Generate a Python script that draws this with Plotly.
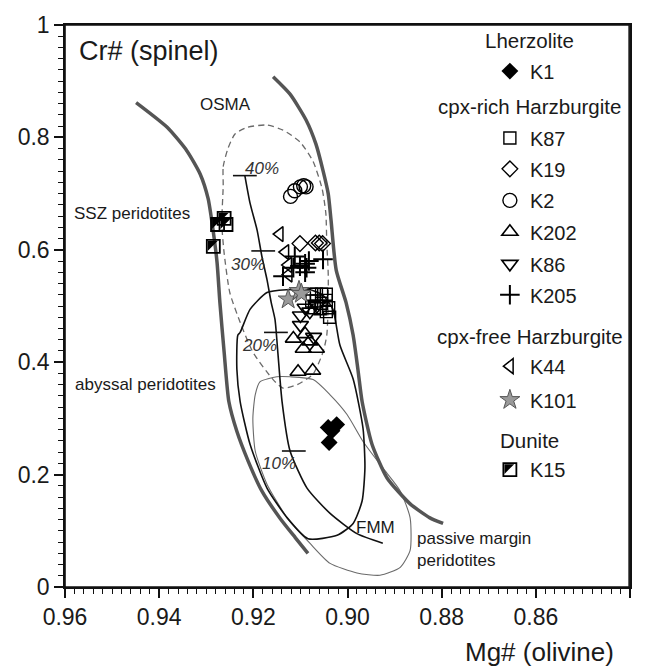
import plotly.graph_objects as go

# ---------------- data (Mg# olivine, Cr# spinel) ----------------
K1_x = [0.9041, 0.9023, 0.9033, 0.9039]
K1_y = [0.284, 0.289, 0.278, 0.257]

K87_x = [0.9076, 0.9066, 0.9055, 0.9045, 0.9076, 0.9066, 0.9055, 0.9045, 0.9070, 0.9058, 0.9045, 0.9038, 0.9040]
K87_y = [0.521, 0.521, 0.521, 0.521, 0.509, 0.509, 0.505, 0.510, 0.497, 0.495, 0.490, 0.480, 0.497]

K19_x = [0.9101, 0.9068, 0.9060, 0.9053]
K19_y = [0.611, 0.612, 0.612, 0.611]

K2_x = [0.9121, 0.9112, 0.9100, 0.9093, 0.9088]
K2_y = [0.695, 0.705, 0.712, 0.714, 0.712]

K202_x = [0.9115, 0.9090, 0.9094, 0.9066, 0.9080, 0.9105, 0.9074]
K202_y = [0.442, 0.450, 0.424, 0.424, 0.437, 0.383, 0.385]

K86_x = [0.9100, 0.9100, 0.9080, 0.9090, 0.9072, 0.9065]
K86_y = [0.483, 0.466, 0.490, 0.497, 0.445, 0.500]

K205_x = [0.9112, 0.9115, 0.9101, 0.9090, 0.9087, 0.9082, 0.9052, 0.9137, 0.9090]
K205_y = [0.588, 0.568, 0.571, 0.575, 0.568, 0.580, 0.583, 0.553, 0.560]

K44_x = [0.9144, 0.9132, 0.9126, 0.9125]
K44_y = [0.628, 0.596, 0.573, 0.556]

K101_x = [0.9126, 0.9103, 0.9098]
K101_y = [0.512, 0.527, 0.522]

K15_x = [0.9276, 0.9262, 0.9258, 0.9285]
K15_y = [0.645, 0.656, 0.645, 0.606]

# ---------------- reference fields / trends ----------------
osma_left_x = [0.9449, 0.9383, 0.9341, 0.9313, 0.9296, 0.9286, 0.9277, 0.9271, 0.9262, 0.9252,
               0.9235, 0.9211, 0.9182, 0.9143, 0.9111, 0.9084]
osma_left_y = [0.862, 0.818, 0.776, 0.735, 0.691, 0.638, 0.577, 0.506, 0.418, 0.330,
               0.277, 0.224, 0.171, 0.122, 0.088, 0.060]

osma_right_x = [0.9158, 0.9122, 0.9088, 0.9067, 0.9052, 0.9041, 0.9035, 0.9024, 0.9003, 0.8988,
                0.8978, 0.8969, 0.8948, 0.8916, 0.8867, 0.8825, 0.8797]
osma_right_y = [0.908, 0.877, 0.831, 0.788, 0.741, 0.700, 0.653, 0.564, 0.506, 0.448,
                0.388, 0.330, 0.254, 0.194, 0.148, 0.123, 0.113]

ssz_field_x = [0.9264, 0.9264, 0.9254, 0.9239, 0.9213, 0.9171, 0.9137, 0.9101, 0.9073, 0.9054,
               0.9046, 0.9044, 0.9041, 0.9041, 0.9044, 0.9052, 0.9073, 0.9107, 0.9137, 0.9158,
               0.9201, 0.9228, 0.9250, 0.9262, 0.9267, 0.9264]
ssz_field_y = [0.713, 0.748, 0.780, 0.806, 0.818, 0.822, 0.813, 0.792, 0.757, 0.709,
               0.665, 0.612, 0.559, 0.506, 0.448, 0.418, 0.379, 0.360, 0.354, 0.369,
               0.418, 0.471, 0.524, 0.594, 0.647, 0.713]

abyssal_x = [0.9228, 0.9207, 0.9171, 0.9128, 0.9080, 0.9052, 0.9031, 0.9016, 0.8988, 0.8967,
             0.8963, 0.8969, 0.8988, 0.9022, 0.9084, 0.9128, 0.9171, 0.9207, 0.9228, 0.9235,
             0.9233, 0.9228]
abyssal_y = [0.453, 0.494, 0.524, 0.529, 0.529, 0.519, 0.494, 0.430, 0.370, 0.282,
             0.212, 0.153, 0.113, 0.092, 0.086, 0.123, 0.176, 0.254, 0.330, 0.388,
             0.448, 0.453]

passive_x = [0.9186, 0.9150, 0.9122, 0.9073, 0.9037, 0.9001, 0.8967, 0.8925, 0.8888, 0.8867,
             0.8867, 0.8888, 0.8931, 0.8980, 0.9037, 0.9080, 0.9128, 0.9171, 0.9196, 0.9201,
             0.9196, 0.9186]
passive_y = [0.365, 0.374, 0.374, 0.369, 0.342, 0.307, 0.259, 0.212, 0.171, 0.123,
             0.065, 0.035, 0.021, 0.025, 0.042, 0.078, 0.123, 0.183, 0.242, 0.300,
             0.342, 0.365]

fmm_x = [0.9218, 0.9207, 0.9192, 0.9182, 0.9171, 0.9162, 0.9154, 0.9148, 0.9139, 0.9122,
         0.9086, 0.9037, 0.8980, 0.8925]
fmm_y = [0.732, 0.683, 0.635, 0.589, 0.547, 0.506, 0.476, 0.418, 0.330, 0.242,
         0.176, 0.131, 0.095, 0.078]

melt_x = [0.9218, 0.9179, 0.9152, 0.9114]
melt_y = [0.732, 0.598, 0.453, 0.242]
melt_labels = ["40%", "30%", "20%", "10%"]
melt_label_x = [0.9182, 0.9211, 0.9186, 0.9145]
melt_label_y = [0.744, 0.573, 0.430, 0.219]

x_range = [0.96, 0.84]
y_range = [0.0, 1.0]
x_ticks = [0.96, 0.94, 0.92, 0.90, 0.88, 0.86, 0.84]
x_ticktext = ["0.96", "0.94", "0.92", "0.90", "0.88", "0.86", "0.84"]
y_ticks = [0, 0.2, 0.4, 0.6, 0.8, 1]
y_ticktext = ["0", "0.2", "0.4", "0.6", "0.8", "1"]

FONT = "Liberation Sans, Arial, Helvetica, sans-serif"
TXT = "#1a1a1a"

# plot-area geometry (px)
W, H = 650, 666
ML, MR, MT, MB = 65, 20, 20, 79
PW, PH = W - ML - MR, H - MT - MB

# half-filled square (K15): open square + filled upper-left triangle.
# plotly's triangle-nw has its centroid on the point, so it sits 0.4*r down-right
# of the square centre: shift it back up-left by that amount.
SQ_SIZE = 13
TRI_SIZE = SQ_SIZE / 1.2           # triangle legs = square side
TRI_SHIFT = -0.4 * TRI_SIZE / 2    # px (negative = left / up)

fig = go.Figure()


def add_curve(x, y, color, width, dash="solid"):
    fig.add_trace(go.Scatter(x=x, y=y, mode="lines", showlegend=False, hoverinfo="skip",
                             line=dict(color=color, width=width, dash=dash, shape="spline",
                                       smoothing=0.6)))


add_curve(passive_x, passive_y, "#6a6a6a", 1.1)
add_curve(ssz_field_x, ssz_field_y, "#6a6a6a", 1.3, dash="6px,4px")
add_curve(abyssal_x, abyssal_y, "#111111", 1.6)
add_curve(osma_left_x, osma_left_y, "#555555", 3.5)
add_curve(osma_right_x, osma_right_y, "#555555", 3.5)
add_curve(fmm_x, fmm_y, "#111111", 1.6)

# melting-degree ticks on FMM trend
fig.add_trace(go.Scatter(x=melt_x, y=melt_y, mode="markers", showlegend=False, hoverinfo="skip",
                         marker=dict(symbol="line-ew", size=17,
                                     line=dict(color="#111111", width=1.6))))

# ---------------- samples ----------------
samples = [
    # name, x, y, symbol, size, color, line color, line width, legend id, axes
    ("K1", K1_x, K1_y, "diamond", 13, "black", "black", 0, "legend", "x", "y"),
    ("K87", K87_x, K87_y, "square-open", 12, "black", "black", 1.4, "legend2", "x", "y"),
    ("K19", K19_x, K19_y, "diamond-open", 12, "black", "black", 1.4, "legend3", "x", "y"),
    ("K2", K2_x, K2_y, "circle-open", 14, "black", "black", 1.4, "legend4", "x", "y"),
    ("K202", K202_x, K202_y, "triangle-up-open", 14, "black", "black", 1.6, "legend5", "x", "y"),
    ("K86", K86_x, K86_y, "triangle-down-open", 14, "black", "black", 1.6, "legend6", "x", "y"),
    ("K205", K205_x, K205_y, "cross-thin", 14, "black", "black", 2.0, "legend7", "x", "y"),
    ("K44", K44_x, K44_y, "triangle-left-open", 13, "black", "black", 1.5, "legend8", "x", "y"),
    ("K101", K101_x, K101_y, "star", 15, "#9a9a9a", "#555555", 1.0, "legend9", "x", "y"),
    ("K15", K15_x, K15_y, "square-open", SQ_SIZE, "black", "black", 1.8, "legend10", "x", "y"),
    (" ", K15_x, K15_y, "triangle-nw", TRI_SIZE, "black", "black", 0, "legend11", "x2", "y2"),
]

for name, xs, ys, sym, size, col, lcol, lw, leg, xa, ya in samples:
    fig.add_trace(go.Scatter(
        x=xs, y=ys, mode="markers", name=name, legend=leg, xaxis=xa, yaxis=ya,
        marker=dict(symbol=sym, size=size, color=col, line=dict(color=lcol, width=lw)),
    ))

# ---------------- legend layout ----------------
leg_x = 0.752
leg_rows = {"legend": 0.918, "legend2": 0.799, "legend3": 0.744, "legend4": 0.688,
            "legend5": 0.632, "legend6": 0.575, "legend7": 0.520, "legend8": 0.393,
            "legend9": 0.333, "legend10": 0.209, "legend11": 0.209}
legend_layout = {}
for key, yy in leg_rows.items():
    lx, ly = leg_x, yy
    if key == "legend11":
        lx = leg_x + TRI_SHIFT / PW
        ly = yy - TRI_SHIFT / PH
    legend_layout[key] = dict(x=lx, y=ly, xanchor="left", yanchor="middle",
                              bgcolor="rgba(0,0,0,0)", borderwidth=0,
                              font=dict(family=FONT, size=20, color=TXT),
                              itemsizing="trace", itemclick=False, itemdoubleclick=False)
fig.update_layout(**legend_layout)

group_titles = ["Lherzolite", "cpx-rich Harzburgite", "cpx-free Harzburgite", "Dunite"]
group_title_y = [0.972, 0.855, 0.446, 0.261]
for t, yy in zip(group_titles, group_title_y):
    fig.add_annotation(x=0.823, y=yy, xref="paper", yref="paper", text=t, showarrow=False,
                       xanchor="center", yanchor="middle",
                       font=dict(family=FONT, size=20.5, color=TXT))

# ---------------- text labels ----------------
for t, xx, yy in zip(melt_labels, melt_label_x, melt_label_y):
    fig.add_annotation(x=xx, y=yy, text="<i>" + t + "</i>", showarrow=False,
                       font=dict(family=FONT, size=17, color="#333333"))

labels = [
    ("OSMA", 0.9260, 0.859, "center"),
    ("SSZ peridotites", 0.9458, 0.665, "center"),
    ("abyssal peridotites", 0.9430, 0.360, "center"),
    ("FMM", 0.8940, 0.106, "center"),
]
for t, xx, yy, anc in labels:
    fig.add_annotation(x=xx, y=yy, text=t, showarrow=False, xanchor=anc,
                       font=dict(family=FONT, size=17, color=TXT))
fig.add_annotation(x=0.8857, y=0.066, text="passive margin<br>peridotites", showarrow=False,
                   xanchor="left", align="left", font=dict(family=FONT, size=17, color=TXT))

fig.add_annotation(x=0.022, y=0.954, xref="paper", yref="paper", text="Cr# (spinel)",
                   showarrow=False, xanchor="left", yanchor="middle",
                   font=dict(family=FONT, size=27, color=TXT))
fig.add_annotation(x=0.975, y=-0.115, xref="paper", yref="paper", text="Mg# (olivine)",
                   showarrow=False, xanchor="right", yanchor="middle",
                   font=dict(family=FONT, size=26, color=TXT))

# frame (right edge drawn a hair inside so it is never lost at the plot edge)
fig.add_shape(type="rect", xref="paper", yref="paper", x0=0, x1=0.9985, y0=0, y1=1,
              line=dict(color="#111111", width=1.6), layer="above")

axis_common = dict(showline=True, linecolor="#111111", linewidth=1.5, mirror=True,
                   ticks="outside", ticklen=9, tickwidth=1.5, tickcolor="#111111",
                   showgrid=False, zeroline=False,
                   tickfont=dict(family=FONT, size=23, color=TXT))

# hidden overlay axes: same scales shifted by TRI_SHIFT px to centre the triangle
dx = TRI_SHIFT * (x_range[0] - x_range[1]) / PW
dy = TRI_SHIFT * (y_range[1] - y_range[0]) / PH

fig.update_layout(
    xaxis=dict(range=x_range, tickvals=x_ticks, ticktext=x_ticktext,
               minor=dict(ticks="outside", ticklen=5, tickwidth=1.2, tickcolor="#111111",
                          dtick=0.002, tick0=0.84, showgrid=False),
               **axis_common),
    yaxis=dict(range=y_range, tickvals=y_ticks, ticktext=y_ticktext,
               minor=dict(ticks="outside", ticklen=5, tickwidth=1.2, tickcolor="#111111",
                          dtick=0.02, tick0=0, showgrid=False),
               **axis_common),
    xaxis2=dict(overlaying="x", anchor="y2", range=[x_range[0] + dx, x_range[1] + dx],
                visible=False),
    yaxis2=dict(overlaying="y", anchor="x2", range=[y_range[0] + dy, y_range[1] + dy],
                visible=False),
)

fig.update_layout(width=W, height=H, margin=dict(l=ML, r=MR, t=MT, b=MB),
                  paper_bgcolor="white", plot_bgcolor="white",
                  font=dict(family=FONT, color=TXT), hovermode=False)

fig.write_html("out.html")
